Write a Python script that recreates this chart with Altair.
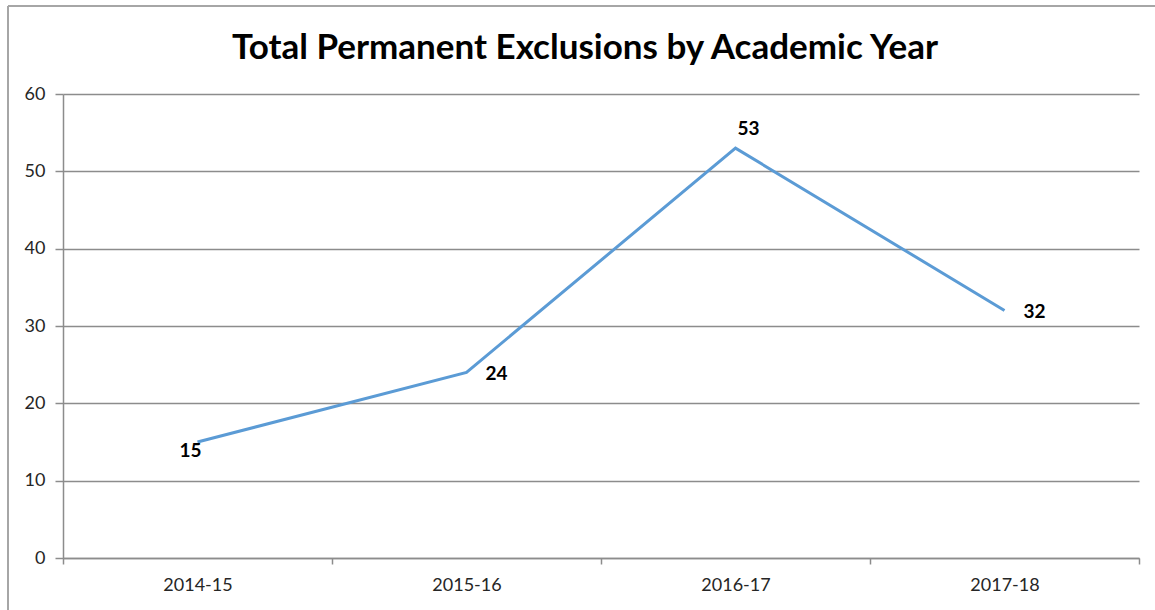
import altair as alt
import pandas as pd

years = ["2014-15", "2015-16", "2016-17", "2017-18"]
exclusions = [15, 24, 53, 32]

df = pd.DataFrame({"year": years, "value": exclusions})

FONT = "Lato"
GRID = "#8c8c8c"
TXT = "#262626"

x_enc = alt.X(
    "year:N",
    sort=years,
    title=None,
    scale=alt.Scale(paddingInner=0, paddingOuter=0),
    axis=alt.Axis(
        labelAngle=0,
        labelFont=FONT,
        labelFontSize=18,
        labelColor=TXT,
        labelPadding=12,
        tickBand="extent",
        tickSize=6,
        tickColor=GRID,
        domainColor=GRID,
        domainWidth=1.5,
        tickWidth=1.5,
        grid=False,
    ),
)
y_enc = alt.Y(
    "value:Q",
    title=None,
    scale=alt.Scale(domain=[0, 60], nice=False, zero=True),
    axis=alt.Axis(
        values=[0, 10, 20, 30, 40, 50, 60],
        labelFont=FONT,
        labelFontSize=18,
        labelColor=TXT,
        labelPadding=10,
        tickSize=8,
        tickColor=GRID,
        tickWidth=1.5,
        domainColor=GRID,
        domainWidth=1.5,
        gridColor=GRID,
        gridWidth=1.5,
    ),
)

base = alt.Chart(df)

line = base.mark_line(color="#5B9BD5", strokeWidth=3).encode(x=x_enc, y=y_enc)

label_offsets = {"2014-15": (-7, 9), "2015-16": (30, 2), "2016-17": (13, -19), "2017-18": (30, 1)}
labels = []
for yr in years:
    dx, dy = label_offsets[yr]
    labels.append(
        base.transform_filter(alt.datum.year == yr)
        .mark_text(font=FONT, fontSize=19, fontWeight="bold", color="#000000", dx=dx, dy=dy, baseline="middle")
        .encode(x=alt.X("year:N", sort=years), y="value:Q", text="value:Q")
    )

frame_top = base.mark_rule(color="#a6a6a6", strokeWidth=2, clip=False).encode(
    x=alt.value(-55), x2=alt.value(1200), y=alt.value(-88)
)
frame_left = base.mark_rule(color="#a6a6a6", strokeWidth=2, clip=False).encode(
    x=alt.value(-55), y=alt.value(-88), y2=alt.value(600)
)

chart = (
    alt.layer(line, *labels, frame_top, frame_left)
    .properties(
        width=1076,
        height=464,
        padding={"left": 63, "top": 94, "right": 16, "bottom": 52},
        autosize=alt.AutoSizeParams(type="none"),
        title=alt.TitleParams(
            "Total Permanent Exclusions by Academic Year",
            font=FONT,
            fontSize=35,
            fontWeight="bold",
            color="#000000",
            anchor="middle",
            frame="group",
            dx=-16,
            offset=-61,
        ),
        background="white",
    )
    .configure_view(stroke=None)
)

chart.save("out.html", embed_options={"renderer": "svg", "actions": False})
